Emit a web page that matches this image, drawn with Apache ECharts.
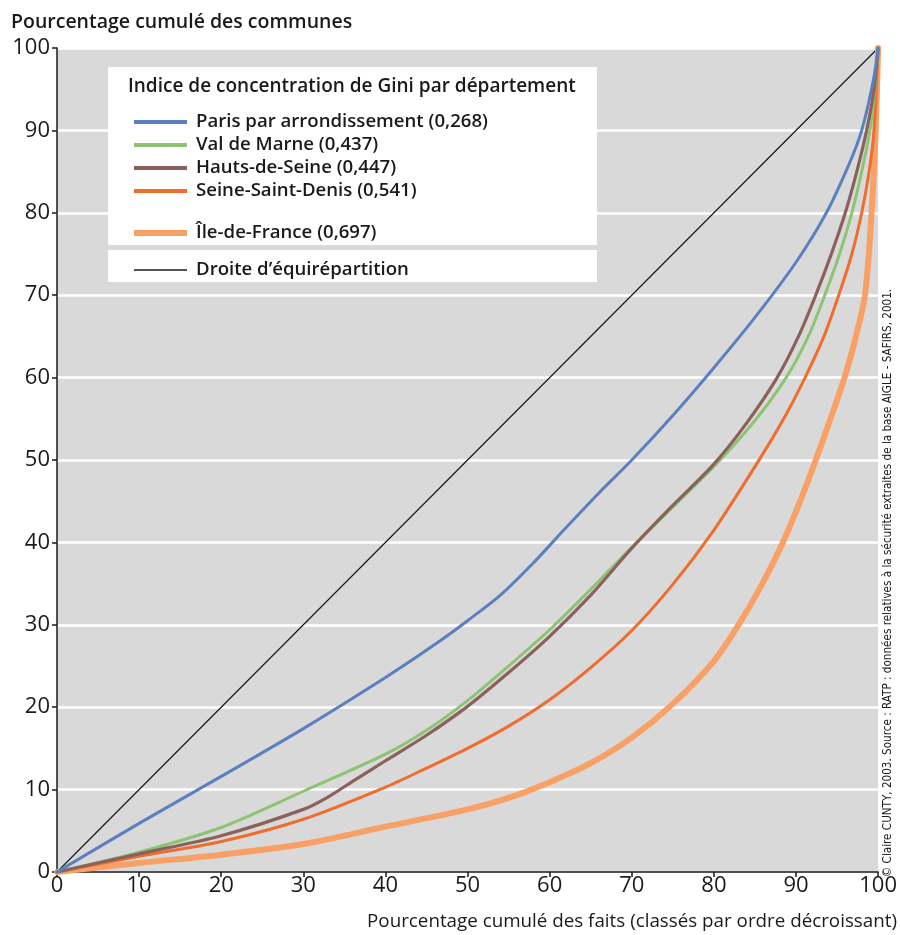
<!DOCTYPE html>
<html>
<head>
<meta charset="utf-8">
<script src="https://cdn.jsdelivr.net/npm/echarts@6/dist/echarts.min.js"></script>
<style>html,body{margin:0;padding:0;background:#fff}#c{width:900px;height:935px}</style>
</head>
<body>
<div id="c"></div>
<script>
// ---- data ----
const xTicks = [0,10,20,30,40,50,60,70,80,90,100];
const yTicks = [0,10,20,30,40,50,60,70,80,90,100];
const seriesNames = [
  'Paris par arrondissement (0,268)',
  'Val de Marne (0,437)',
  'Hauts-de-Seine (0,447)',
  'Seine-Saint-Denis (0,541)',
  'Île-de-France (0,697)',
  'Droite d’équirépartition'
];
const paris = [[0,0],[10,5.9],[20,11.6],[30,17.4],[40,23.6],[46,27.6],[50,30.5],[54,33.6],[58,37.5],[62,41.8],[66,46],[70,50],[75,55.4],[80,61.2],[85,67.3],[90,74],[93.7,80],[96.5,86],[98,90],[99.4,96],[100,100]];
const valDeMarne = [[0,0],[10,2.4],[20,5.4],[30,9.8],[40,14.3],[45,17.2],[50,20.8],[55,25],[60,29.4],[65,34.3],[70,39.4],[75,44.3],[80,49.2],[85,54.8],[88.8,60],[91.5,65],[93.5,70],[95.3,75],[96.8,80],[98,85],[99,90],[99.6,95],[100,100]];
const hautsDeSeine = [[0,0],[10,2.2],[20,4.4],[30,7.6],[33,9.1],[36,11],[40,13.5],[45,16.6],[50,20.1],[55,24.2],[60,28.6],[65,33.6],[70,39.3],[75,44.5],[80,49.5],[84,54.5],[87.7,60],[90.3,65],[92.4,70],[94.3,75],[96,80],[97.4,85],[98.6,90],[99.5,95],[100,100]];
const seineStDenis = [[0,0],[10,1.9],[20,3.7],[30,6.4],[40,10.3],[45,12.6],[50,15],[55,17.7],[60,20.9],[65,24.8],[70,29.3],[75,34.9],[80,41.5],[85,49.2],[88.5,55],[91.1,60],[93.4,65],[95.2,70],[96.8,75],[98,80],[98.9,85],[99.5,90],[100,100]];
const ileDeFrance = [[0,0],[10,1.1],[20,2.1],[30,3.4],[40,5.5],[50,7.6],[55,9],[60,10.9],[65,13.2],[70,16.3],[75,20.4],[80,25.6],[83,30],[85.9,35],[88.4,40],[90.5,45],[92.4,50],[94.2,55],[95.9,60],[97.3,65],[98.4,70],[99.2,80],[99.7,90],[100,100]];
const diagonal = [[0,0],[100,100]];

const FONT = '"Open Sans", sans-serif';
const chart = echarts.init(document.getElementById('c'), null, {renderer:'canvas'});

function ls(name, data, color, width, z){
  return {name, type:'line', data, smooth:0.3, showSymbol:false, symbol:'none', z,
    itemStyle:{color}, lineStyle:{color, width, cap:'round', join:'round'}, emphasis:{disabled:true}};
}
const legendText = {fontFamily:FONT, fontWeight:600, fontSize:18.6, color:'#1a1a1a', lineHeight:23, padding:[0,0,0,4]};

chart.setOption({
  animation:false,
  grid:{left:57, right:20, top:48, bottom:63, show:true, backgroundColor:'#d9d9d9', borderWidth:0},
  xAxis:{type:'value', min:0, max:100, interval:10,
    axisLine:{show:true, onZero:false, lineStyle:{color:'#1a1a1a', width:1.5}},
    axisTick:{show:true, length:5, lineStyle:{color:'#1a1a1a', width:1.5}},
    axisLabel:{fontFamily:FONT, fontSize:22, color:'#1a1a1a', margin:3,
      formatter:v=>xTicks.includes(v)?String(v):''},
    splitLine:{show:false}},
  yAxis:{type:'value', min:0, max:100, interval:10,
    axisLine:{show:true, lineStyle:{color:'#1a1a1a', width:1.5}},
    axisTick:{show:true, length:5, lineStyle:{color:'#1a1a1a', width:1.5}},
    axisLabel:{fontFamily:FONT, fontSize:22, color:'#1a1a1a', margin:7,
      formatter:v=>yTicks.includes(v)?String(v):''},
    splitLine:{show:true, lineStyle:{color:'#ffffff', width:2.5}}},
  legend:[
    {orient:'vertical', left:129, top:105.5, z:100, itemGap:0, itemWidth:53, itemHeight:4, icon:'rect', selectedMode:false,
      textStyle:legendText, data:seriesNames.slice(0,4)},
    {orient:'vertical', left:129, top:216.5, z:100, itemGap:0, itemWidth:53, itemHeight:6, icon:'rect', selectedMode:false,
      textStyle:legendText, data:[seriesNames[4]]},
    {orient:'vertical', left:129, top:253.5, z:100, itemGap:0, itemWidth:53, itemHeight:1.5, icon:'rect', selectedMode:false,
      textStyle:legendText, data:[seriesNames[5]]}
  ],
  graphic:[
    {type:'rect', shape:{x:108, y:67, width:489, height:178}, style:{fill:'#ffffff'}, z:50},
    {type:'rect', shape:{x:108, y:250, width:489, height:32}, style:{fill:'#ffffff'}, z:50},
    {type:'text', x:128, y:87, z:60, style:{text:'Indice de concentration de Gini par département', font:'600 19px '+FONT, fill:'#1a1a1a', verticalAlign:'middle'}},
    {type:'text', x:11, y:22, z:60, style:{text:'Pourcentage cumulé des communes', font:'600 19.5px '+FONT, fill:'#1a1a1a', verticalAlign:'middle'}},
    {type:'text', x:897, y:922, z:60, style:{text:'Pourcentage cumulé des faits (classés par ordre décroissant)', font:'18.8px '+FONT, fill:'#1a1a1a', align:'right', verticalAlign:'middle'}},
    {type:'text', x:888, y:583, rotation:Math.PI/2, z:60, style:{text:'© Claire CUNTY, 2003. Source : RATP : données relatives à la sécurité extraites de la base AIGLE - SAFIRS, 2001.', font:'11.6px "Liberation Sans Narrow", "DejaVu Sans Condensed", sans-serif', fill:'#1a1a1a', align:'center', verticalAlign:'middle'}}
  ],
  series:[
    ls(seriesNames[5], diagonal, '#1a1a1a', 1.2, 2),
    ls(seriesNames[4], ileDeFrance, '#f8a066', 6, 3),
    ls(seriesNames[3], seineStDenis, '#ee6d2f', 3, 4),
    ls(seriesNames[1], valDeMarne, '#8cc474', 3, 5),
    ls(seriesNames[2], hautsDeSeine, '#8b615c', 3.2, 6),
    ls(seriesNames[0], paris, '#5b80c0', 3, 7)
  ]
});
</script>
</body>
</html>
